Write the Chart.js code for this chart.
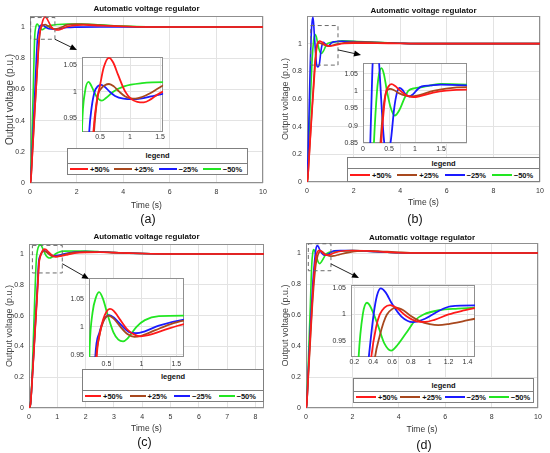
<!DOCTYPE html>
<html>
<head>
<meta charset="utf-8">
<script src="https://cdn.jsdelivr.net/npm/chart.js@4.4.0/dist/chart.umd.min.js"></script>
<style>
body{margin:0;background:#fff}
#fig{position:relative;width:550px;height:453px;overflow:hidden;font-family:"Liberation Sans",Arial,sans-serif}
#fig canvas{position:absolute}
.legend{position:absolute;background:#fff;border:1px solid #7f7f7f;box-sizing:border-box;font-size:7.5px;font-weight:bold;color:#111}
.lhead{text-align:center;border-bottom:1px solid #7f7f7f;font-size:7.5px}
.lrow{display:flex;align-items:center;padding-left:2px}
.lit{flex:1;display:flex;align-items:center;white-space:nowrap}
.lit i{display:inline-block;height:2px;margin-right:2px}
.tag{position:absolute;font-size:12.5px;color:#111;transform:translate(-50%,-50%)}
</style>
</head>
<body>
<div id="fig"></div>
<script>
const fig = document.querySelector('#fig')
const FONT = '"Liberation Sans", Arial, sans-serif'

// series names + colours, same order in every panel
const names = ['+50%', '+25%', '\u221225%', '\u221250%']
const colors = ['#ff1a1a', '#a8481e', '#1a1aff', '#22e622']

// tick labels
const mainTicksX = [0, 2, 4, 6, 8, 10]
const mainTicksXc = [0, 1, 2, 3, 4, 5, 6, 7, 8]
const mainTicksY = [0, 0.2, 0.4, 0.6, 0.8, 1]
const insTicksXa = [0.5, 1, 1.5]
const insTicksXb = [0, 0.5, 1, 1.5]
const insTicksXd = [0.2, 0.4, 0.6, 0.8, 1, 1.2, 1.4]
const insTicksY = [0.95, 1, 1.05]
const insTicksYb = [0.85, 0.9, 0.95, 1, 1.05]

// (a)  [time, voltage]
const a_p50 = [[0,0],[0.03,0.01],[0.1,0.18],[0.2,0.45],[0.3,0.7],[0.39,0.924],[0.45,0.985],[0.5,1.012],[0.56,1.045],[0.65,1.064],[0.72,1.055],[0.8,1.032],[0.92,1.0],[1.02,0.986],[1.12,0.981],[1.23,0.98],[1.35,0.986],[1.45,0.994],[1.55,1.0],[1.8,1.008],[2.3,1.012],[3,1.008],[4,1.003],[5,1.0],[10,1.0]]
const a_p25 = [[0,0],[0.03,0.01],[0.1,0.18],[0.2,0.45],[0.3,0.7],[0.4,0.924],[0.46,0.99],[0.52,1.006],[0.58,1.012],[0.65,1.0145],[0.73,1.01],[0.82,1.0],[0.92,0.991],[1.0,0.988],[1.09,0.987],[1.2,0.99],[1.35,0.998],[1.45,1.005],[1.58,1.013],[2.0,1.018],[2.5,1.017],[3,1.012],[4,1.004],[5,1.0],[10,1.0]]
const a_m25 = [[0,0],[0.03,0.02],[0.1,0.22],[0.2,0.55],[0.28,0.82],[0.32,0.924],[0.36,0.97],[0.41,1.0],[0.46,1.01],[0.52,1.013],[0.58,1.009],[0.66,1.0],[0.75,0.992],[0.89,0.987],[1.05,0.986],[1.17,0.987],[1.35,0.991],[1.58,0.9965],[2,0.999],[3,1.0],[10,1.0]]
const a_m50 = [[0,0],[0.03,0.03],[0.08,0.28],[0.14,0.6],[0.2,0.93],[0.25,1.0],[0.31,1.0185],[0.36,1.01],[0.4,1.0],[0.46,0.988],[0.53,0.983],[0.6,0.988],[0.72,1.0],[0.9,1.01],[1.2,1.016],[1.6,1.018],[2.2,1.018],[3,1.013],[4,1.005],[5,1.001],[10,1.0]]

// (b)
const b_p50 = [[0,0],[0.03,0.02],[0.1,0.2],[0.2,0.47],[0.3,0.72],[0.355,0.86],[0.4,0.945],[0.44,0.995],[0.5,1.015],[0.55,1.0195],[0.62,1.014],[0.7,1.003],[0.81,0.99],[0.9,0.984],[0.97,0.982],[1.1,0.985],[1.35,0.995],[1.6,1.001],[2,1.004],[3,1.003],[4,1.001],[5,1.0],[10,1.0]]
const b_p25 = [[0,0],[0.03,0.02],[0.1,0.21],[0.2,0.49],[0.3,0.76],[0.34,0.86],[0.4,0.96],[0.45,0.998],[0.52,1.006],[0.6,1.002],[0.7,0.993],[0.8,0.987],[0.935,0.984],[1.1,0.989],[1.35,1.0],[1.6,1.007],[2,1.011],[2.5,1.011],[3,1.008],[4,1.003],[5,1.0],[10,1.0]]
const b_m25 = [[0,0],[0.02,0.04],[0.06,0.3],[0.1,0.58],[0.14,0.85],[0.18,1.06],[0.22,1.16],[0.26,1.19],[0.31,1.08],[0.36,0.95],[0.41,0.85],[0.46,0.832],[0.53,0.852],[0.6,0.95],[0.65,0.993],[0.7,1.009],[0.76,1.003],[0.82,0.99],[0.89,0.984],[0.96,0.99],[1.05,1.005],[1.13,1.013],[1.3,1.016],[1.5,1.018],[2,1.016],[2.5,1.012],[3,1.008],[4,1.003],[5,1.0],[10,1.0]]
const b_m50 = [[0,0],[0.03,0.04],[0.08,0.3],[0.14,0.58],[0.21,0.85],[0.27,1.0],[0.31,1.05],[0.355,1.066],[0.4,1.05],[0.46,1.0],[0.53,0.953],[0.61,0.929],[0.7,0.945],[0.8,0.98],[0.87,1.0],[1.0,1.008],[1.1,1.01],[1.3,1.016],[1.5,1.02],[2,1.018],[2.5,1.014],[3,1.009],[4,1.003],[5,1.0],[10,1.0]]

// (c)
const c_p50 = [[0,0],[0.05,0.02],[0.1,0.14],[0.2,0.45],[0.3,0.76],[0.36,0.946],[0.4,0.985],[0.45,1.012],[0.5,1.027],[0.55,1.032],[0.6,1.029],[0.7,1.012],[0.8,0.995],[0.9,0.986],[0.99,0.983],[1.1,0.985],[1.3,0.993],[1.61,1.005],[2,1.01],[2.5,1.011],[3,1.009],[3.5,1.006],[4,1.003],[5,1.0],[8.3,1.0]]
const c_p25 = [[0,0],[0.05,0.02],[0.1,0.15],[0.2,0.46],[0.3,0.78],[0.35,0.94],[0.4,0.985],[0.45,1.008],[0.53,1.02],[0.6,1.015],[0.7,1.0],[0.8,0.987],[0.9,0.982],[1.0,0.984],[1.2,0.994],[1.4,1.004],[1.61,1.011],[2,1.014],[2.5,1.013],[3,1.009],[3.5,1.006],[4,1.003],[5,1.0],[8.3,1.0]]
const c_m25 = [[0,0],[0.05,0.02],[0.1,0.15],[0.2,0.47],[0.3,0.8],[0.34,0.946],[0.4,0.99],[0.46,1.012],[0.54,1.021],[0.62,1.015],[0.72,1.002],[0.82,0.991],[0.92,0.9885],[1.05,0.992],[1.25,1.002],[1.61,1.013],[2,1.016],[2.5,1.014],[3,1.01],[3.5,1.006],[4,1.003],[5,1.0],[8.3,1.0]]
const c_m50 = [[0,0],[0.05,0.02],[0.1,0.17],[0.15,0.42],[0.2,0.7],[0.26,0.966],[0.3,1.025],[0.35,1.053],[0.396,1.062],[0.45,1.05],[0.52,1.02],[0.6,0.99],[0.67,0.977],[0.737,0.974],[0.8,0.979],[0.93,1.0],[1.05,1.012],[1.25,1.019],[1.6,1.02],[2,1.019],[2.5,1.015],[3,1.01],[3.5,1.006],[4,1.003],[5,1.0],[8.3,1.0]]

// (d)
const d_p50 = [[0,0],[0.03,0.02],[0.1,0.22],[0.2,0.5],[0.3,0.76],[0.38,0.92],[0.43,0.975],[0.47,1.0],[0.52,1.013],[0.58,1.0175],[0.65,1.012],[0.75,0.997],[0.86,0.987],[0.95,0.986],[1.05,0.99],[1.2,1.0],[1.35,1.007],[1.48,1.012],[2,1.017],[2.5,1.015],[3,1.01],[3.5,1.006],[4,1.002],[5,1.0],[10,1.0]]
const d_p25 = [[0,0],[0.03,0.02],[0.1,0.2],[0.2,0.47],[0.3,0.72],[0.42,0.92],[0.47,0.96],[0.51,0.985],[0.546,1.0],[0.6,1.01],[0.645,1.013],[0.72,1.008],[0.8,0.997],[0.9,0.987],[1.0,0.982],[1.09,0.98],[1.2,0.982],[1.35,0.987],[1.48,0.992],[1.8,1.003],[2.2,1.012],[2.7,1.015],[3.2,1.012],[3.8,1.006],[4.5,1.002],[5.5,1.0],[10,1.0]]
const d_m25 = [[0,0],[0.03,0.02],[0.1,0.24],[0.2,0.55],[0.3,0.82],[0.36,0.93],[0.405,1.0],[0.44,1.035],[0.48,1.049],[0.53,1.042],[0.6,1.02],[0.7,0.996],[0.82,0.9855],[0.95,0.992],[1.1,1.007],[1.22,1.015],[1.48,1.017],[2,1.017],[2.5,1.013],[3,1.009],[3.5,1.005],[4,1.002],[5,1.0],[10,1.0]]
const d_m50 = [[0,0],[0.03,0.03],[0.1,0.3],[0.18,0.63],[0.246,0.92],[0.29,1.0],[0.334,1.022],[0.37,1.015],[0.45,0.98],[0.52,0.945],[0.59,0.932],[0.66,0.943],[0.75,0.965],[0.85,0.99],[0.935,1.0],[1.1,1.008],[1.3,1.011],[1.48,1.013],[2,1.016],[2.5,1.013],[3,1.009],[3.5,1.005],[4,1.002],[5,1.0],[10,1.0]]

// layout of the four panels (page pixels), zoom boxes in data units
const panels = [
  {tag: '(a)', series: [a_p50, a_p25, a_m25, a_m50],
   box: [0, 0, 275, 226], plot: [30, 16, 263, 183], xmax: 10, ymax: 1.07, xticks: mainTicksX,
   titlePad: [5, 3], yTitle: [10, 5], xTitlePad: 16.5,
   zoom: [0.03, 1.07, 0.921, 1.06], from: [1.07, 0.921], arrowOff: [-5, 0],
   inset: {rect: [82, 50, 164, 132], x: [0.2, 1.55], y: [0.924, 1.065], xticks: insTicksXa, yticks: insTicksY, xpad: 1},
   legend: {rect: [67, 148, 181, 27], head: 15, headLine: 14, line: 18},
   label: [148, 219]},
  {tag: '(b)', series: [b_p50, b_p25, b_m25, b_m50],
   box: [275, 0, 275, 226], plot: [307, 16, 540, 182], xmax: 10, ymax: 1.2, xticks: mainTicksX,
   titlePad: [7, 1], yTitle: [9, 6.5], xTitlePad: 19.5,
   zoom: [0.16, 1.33, 0.845, 1.131], from: [1.33, 0.955], arrowOff: [-2, -1],
   inset: {rect: [363, 56, 467, 143], x: [0, 2], y: [0.85, 1.08], xticks: insTicksXb, yticks: insTicksYb, xpad: 2},
   legend: {rect: [347, 157, 193, 25], head: 11, headLine: 11, line: 20},
   label: [415, 219]},
  {tag: '(c)', series: [c_p50, c_p25, c_m25, c_m50],
   box: [0, 226, 275, 227], plot: [29, 244, 264, 408], xmax: 8.3, ymax: 1.065, xticks: mainTicksXc,
   titlePad: [6.5, 3.5], yTitle: [9, 5.5], xTitlePad: 20,
   zoom: [0.12, 1.175, 0.877, 1.056], from: [1.175, 0.937], arrowOff: [0, 8],
   inset: {rect: [89, 271, 184, 357], x: [0.25, 1.61], y: [0.946, 1.087], xticks: insTicksXa, yticks: insTicksY, xpad: 3},
   legend: {rect: [82, 369, 182, 33], head: 21, headLine: 14, line: 16},
   label: [144.5, 442]},
  {tag: '(d)', series: [d_p50, d_p25, d_m25, d_m50],
   box: [275, 226, 275, 227], plot: [306, 243, 538, 408], xmax: 10, ymax: 1.065, xticks: mainTicksX,
   titlePad: [8, 1], yTitle: [9, 6.5], xTitlePad: 19,
   zoom: [0.1, 1.076, 0.886, 1.06], from: [1.076, 0.93], arrowOff: [8, 0],
   inset: {rect: [351, 278, 475, 357], x: [0.165, 1.48], y: [0.92, 1.055], xticks: insTicksXd, yticks: insTicksY, xpad: 1},
   legend: {rect: [353, 378, 181, 25], head: 13, headLine: 13, line: 20},
   label: [424, 444.5]}
]

Chart.defaults.font.family = FONT

// box round the plot area, white fill for the insets
const framePlugin = {
  id: 'frame',
  beforeDraw(chart, args, o) {
    if (!o.fill) return
    const a = chart.chartArea
    chart.ctx.save()
    chart.ctx.fillStyle = '#fff'
    chart.ctx.fillRect(a.left, a.top, a.right - a.left, a.bottom - a.top)
    chart.ctx.restore()
  },
  beforeDatasetsDraw(chart) {
    const a = chart.chartArea
    const ctx = chart.ctx
    ctx.save()
    ctx.strokeStyle = '#8f8f8f'
    ctx.lineWidth = 1
    ctx.strokeRect(Math.round(a.left) + 0.5, Math.round(a.top) + 0.5, Math.round(a.right - a.left) - 1, Math.round(a.bottom - a.top) - 1)
    ctx.restore()
  }
}

// dashed zoom box and arrow to the inset
const zoomPlugin = {
  id: 'zoomBox',
  afterDatasetsDraw(chart, args, o) {
    if (!o.zoom) return
    const {ctx, scales: {x, y}} = chart
    const z = o.zoom
    const x0 = x.getPixelForValue(z[0]), x1 = x.getPixelForValue(z[1])
    const y0 = y.getPixelForValue(z[3]), y1 = y.getPixelForValue(z[2])
    ctx.save()
    ctx.strokeStyle = '#6a6a6a'
    ctx.lineWidth = 1
    ctx.setLineDash([4, 3])
    ctx.strokeRect(x0, y0, x1 - x0, y1 - y0)
    ctx.setLineDash([])
    const sx = x.getPixelForValue(o.from[0]), sy = y.getPixelForValue(o.from[1])
    const ex = o.to[0], ey = o.to[1]
    const ang = Math.atan2(ey - sy, ex - sx)
    ctx.strokeStyle = '#222'
    ctx.beginPath()
    ctx.moveTo(sx, sy)
    ctx.lineTo(ex - 5 * Math.cos(ang), ey - 5 * Math.sin(ang))
    ctx.stroke()
    ctx.fillStyle = '#000'
    ctx.beginPath()
    ctx.moveTo(ex, ey)
    ctx.lineTo(ex - 7 * Math.cos(ang) + 3 * Math.sin(ang), ey - 7 * Math.sin(ang) - 3 * Math.cos(ang))
    ctx.lineTo(ex - 7 * Math.cos(ang) - 3 * Math.sin(ang), ey - 7 * Math.sin(ang) + 3 * Math.cos(ang))
    ctx.closePath()
    ctx.fill()
    ctx.restore()
  }
}

function addCanvas(l, t, w, h) {
  const cv = document.createElement('canvas')
  cv.width = w
  cv.height = h
  cv.style.left = l + 'px'
  cv.style.top = t + 'px'
  cv.style.width = w + 'px'
  cv.style.height = h + 'px'
  fig.appendChild(cv)
  return cv
}

function makeSets(series, w) {
  return series.map((s, i) => ({
    label: names[i],
    data: s.map(d => ({x: d[0], y: d[1]})),
    borderColor: colors[i],
    borderWidth: w,
    pointRadius: 0,
    cubicInterpolationMode: 'monotone',
    fill: false
  }))
}

const fmt = v => String(Math.round(v * 1000) / 1000)

function axis(min, max, ticks, size, pad, fit) {
  return {
    type: 'linear', min: min, max: max,
    afterBuildTicks: s => { s.ticks = ticks.map(v => ({value: v})) },
    afterFit: fit,
    grid: {color: '#e3e3e3', drawTicks: false},
    border: {display: false},
    ticks: {font: {size: size}, color: '#333', padding: pad, callback: fmt, autoSkip: false, maxRotation: 0}
  }
}

function mainChart(p) {
  const [bx, by, bw, bh] = p.box
  const [pl, pt, pr, pb] = p.plot
  const cv = addCanvas(bx, by, bw, bh)
  const q = p.inset
  const x = axis(0, p.xmax, p.xticks, 7, 5, s => { s.height = by + bh - pb })
  x.title = {display: true, text: 'Time (s)', color: '#333', font: {size: 8.5, lineHeight: 1}, padding: {top: 0, bottom: p.xTitlePad}}
  const y = axis(0, p.ymax, mainTicksY, 7, 5, s => { s.width = pl - bx })
  y.title = {display: true, text: 'Output voltage (p.u.)', color: '#444', font: {size: p.yTitle[0], lineHeight: 1}, padding: {top: p.yTitle[1], bottom: 0}}
  new Chart(cv, {
    type: 'line',
    data: {datasets: makeSets(p.series, 1.6)},
    options: {
      responsive: false, animation: false, events: [],
      layout: {padding: {left: 0, top: 0, bottom: 0, right: bx + bw - pr}},
      plugins: {
        legend: {display: false},
        tooltip: {enabled: false},
        title: {display: true, text: 'Automatic voltage regulator', fullSize: false, color: '#111',
          font: {size: 8, weight: 'bold', lineHeight: 1}, padding: {top: p.titlePad[0], bottom: p.titlePad[1]}},
        frame: {fill: false},
        zoomBox: {zoom: p.zoom, from: p.from, to: [q.rect[0] + p.arrowOff[0] - bx, q.rect[1] + p.arrowOff[1] - by]}
      },
      scales: {x: x, y: y}
    },
    plugins: [framePlugin, zoomPlugin]
  })
}

function insetChart(p) {
  const q = p.inset
  const [l, t, r, b] = q.rect
  const cv = addCanvas(l - 26, t - 2, r - l + 28, b - t + 14)
  new Chart(cv, {
    type: 'line',
    data: {datasets: makeSets(p.series, 1.8)},
    options: {
      responsive: false, animation: false, events: [],
      layout: {padding: {left: 0, top: 2, bottom: 0, right: 2}},
      plugins: {legend: {display: false}, tooltip: {enabled: false}, frame: {fill: true}},
      scales: {
        x: axis(q.x[0], q.x[1], q.xticks, 7, q.xpad, s => { s.height = 12 }),
        y: axis(q.y[0], q.y[1], q.yticks, 7, 5, s => { s.width = 26 })
      }
    },
    plugins: [framePlugin]
  })
}

function addLegend(p) {
  const g = p.legend
  const box = document.createElement('div')
  box.className = 'legend'
  box.style.left = g.rect[0] + 'px'
  box.style.top = g.rect[1] + 'px'
  box.style.width = g.rect[2] + 'px'
  box.style.height = g.rect[3] + 'px'
  let html = `<div class="lhead" style="height:${g.head - 1}px;line-height:${g.headLine}px">legend</div>`
  html += `<div class="lrow" style="height:${g.rect[3] - g.head - 2}px">`
  names.forEach((n, i) => {
    html += `<span class="lit"><i style="width:${g.line}px;background:${colors[i]}"></i>${n}</span>`
  })
  html += '</div>'
  box.innerHTML = html
  fig.appendChild(box)
}

function addTag(p) {
  const d = document.createElement('div')
  d.className = 'tag'
  d.style.left = p.label[0] + 'px'
  d.style.top = p.label[1] + 'px'
  d.textContent = p.tag
  fig.appendChild(d)
}

panels.forEach(p => mainChart(p))
panels.forEach(p => {
  insetChart(p)
  addLegend(p)
  addTag(p)
})
</script>
</body>
</html>
